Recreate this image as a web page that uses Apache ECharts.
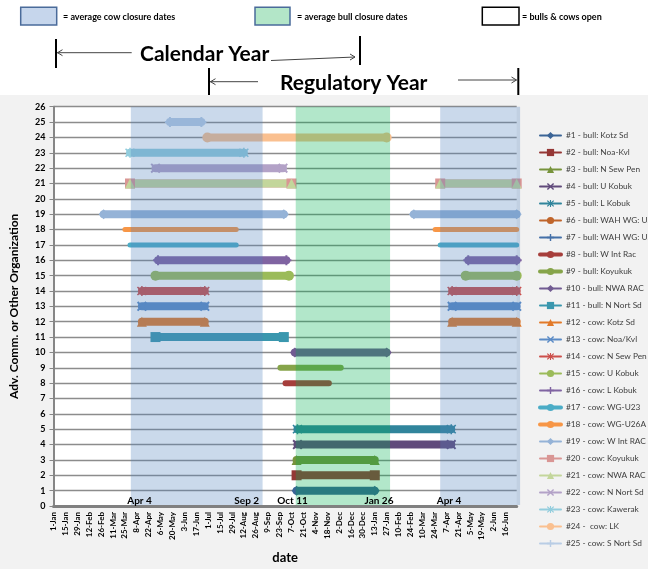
<!DOCTYPE html>
<html>
<head>
<meta charset="utf-8">
<script src="https://cdn.jsdelivr.net/npm/echarts@6/dist/echarts.min.js"></script>
<style>
  html, body { margin: 0; padding: 0; background: #fff; }
  #chart { width: 648px; height: 569px; background: linear-gradient(#fff 0, #fff 95px, #f2f2f2 95px, #f2f2f2 100%); }
</style>
</head>
<body>
<div id="chart"></div>
<script>
// date axis labels, one every 14 days starting 1-Jan
const tickLabels = ['1-Jan','15-Jan','29-Jan','12-Feb','26-Feb','11-Mar','25-Mar','8-Apr','22-Apr','6-May','20-May','3-Jun','17-Jun','1-Jul','15-Jul','29-Jul','12-Aug','26-Aug','9-Sep','23-Sep','7-Oct','21-Oct','4-Nov','18-Nov','2-Dec','16-Dec','30-Dec','13-Jan','27-Jan','10-Feb','24-Feb','10-Mar','24-Mar','7-Apr','21-Apr','5-May','19-May','2-Jun','16-Jun'];

const seriesNames = [
  '#1 - bull: Kotz Sd', '#2 - bull: Noa-Kvl', '#3 - bull: N Sew Pen', '#4 - bull: U Kobuk',
  '#5 - bull: L Kobuk', '#6 - bull: WAH WG: U23', '#7 - bull: WAH WG: U26', '#8 - bull: W Int Rac',
  '#9 - bull: Koyukuk', '#10 - bull: NWA RAC', '#11 - bull: N Nort Sd', '#12 - cow: Kotz Sd',
  '#13 - cow: Noa/Kvl', '#14 - cow: N Sew Pen', '#15 - cow: U Kobuk', '#16 - cow: L Kobuk',
  '#17 - cow: WG-U23', '#18 - cow: WG-U26A', '#19 - cow: W Int RAC', '#20 - cow: Koyukuk',
  '#21 - cow: NWA RAC', '#22 - cow: N Nort Sd', '#23 - cow: Kawerak', '#24 -  cow: LK',
  '#25 - cow: S Nort Sd'
];

// row (y value) of each organization
const seriesRows = [1, 2, 3, 4, 5, 6, 7, 8, 9, 10, 11, 12, 13, 14, 15, 16, 17, 18, 19, 21, 21, 22, 23, 24, 25];

// closure periods [start, end] per organization
const seriesRanges = [
  [['2009-10-14', '2010-01-14']],
  [['2009-10-14', '2010-01-14']],
  [['2009-10-14', '2010-01-14']],
  [['2009-10-15', '2010-04-14']],
  [['2009-10-15', '2010-04-14']],
  [],
  [],
  [['2009-10-01', '2009-11-21']],
  [['2009-09-25', '2009-12-05']],
  [['2009-10-12', '2010-01-28']],
  [['2009-05-01', '2009-09-29']],
  [['2009-04-15', '2009-06-28'], ['2010-04-15', '2010-06-30']],
  [['2009-04-15', '2009-06-28'], ['2010-04-15', '2010-06-30']],
  [['2009-04-15', '2009-06-28'], ['2010-04-15', '2010-06-30']],
  [['2009-05-01', '2009-10-05'], ['2010-05-01', '2010-06-30']],
  [['2009-05-04', '2009-10-02'], ['2010-05-04', '2010-06-30']],
  [['2009-04-01', '2009-08-04'], ['2010-04-01', '2010-06-30']],
  [['2009-03-26', '2009-08-04'], ['2010-03-26', '2010-06-30']],
  [['2009-03-01', '2009-09-29'], ['2010-03-01', '2010-06-30']],
  [['2009-04-01', '2009-10-08'], ['2010-04-01', '2010-06-30']],
  [['2009-04-01', '2009-10-08'], ['2010-04-01', '2010-06-30']],
  [['2009-05-01', '2009-09-28']],
  [['2009-04-01', '2009-08-13']],
  [['2009-07-01', '2010-01-28']],
  [['2009-05-18', '2009-06-24']]
];

// average closure periods: cow, bull, cow (next year)
const bandRanges = [['2009-04-02', '2009-09-04'], ['2009-10-13', '2010-02-01'], ['2010-04-01', '2010-07-04']];

const axisStart = '2009-01-01';
const axisEnd = '2010-06-30';

// styles
const seriesColors = ['#3b6496','#953735','#77933c','#604a7b','#31859c','#c0652b','#4470a8','#a63e3b','#86a44a','#715b92','#3a97ae','#e27a29','#5b8bc6','#cc4f4b','#9bbb59','#8064a2','#4bacc6','#f79646','#95b3d7','#d99694','#c3d69b','#b3a2c7','#93cddd','#fac090','#b9cde5'];
const bandColors = ['rgba(79,129,189,0.3)', 'rgba(0,176,80,0.3)', 'rgba(79,129,189,0.3)'];

const SYM_X = 'path://M0,1.4L1.4,0L5,3.6L8.6,0L10,1.4L6.4,5L10,8.6L8.6,10L5,6.4L1.4,10L0,8.6L3.6,5Z';
const SYM_PLUS = 'path://M4,0H6V4H10V6H6V10H4V6H0V4H4Z';
const SYM_STAR = 'path://M4.3,0H5.7V3.3L8.6,0.4L9.6,1.4L6.4,5L9.6,8.6L8.6,9.6L5.7,6.7V10H4.3V6.7L1.4,9.6L0.4,8.6L3.6,5L0.4,1.4L1.4,0.4L4.3,3.3Z';
const markerCycle = ['diamond', 'rect', 'triangle', SYM_X, SYM_STAR, 'circle', SYM_PLUS, 'none', 'none'];

const FONT = 'Lato, "Open Sans", sans-serif';

function day(s) {
  const p = s.split('-').map(Number);
  return (Date.UTC(p[0], p[1] - 1, p[2]) - Date.UTC(2009, 0, 1)) / 864e5;
}

const lineSeries = seriesNames.map((name, i) => {
  const row = seriesRows[i];
  const data = [];
  seriesRanges[i].forEach((r, k) => {
    if (k > 0) data.push(['-', '-']);
    data.push([day(r[0]), row], [day(r[1]), row]);
  });
  const marker = markerCycle[i % 9];
  const noMarker = marker === 'none';
  return {
    name: name,
    type: 'line',
    data: data,
    clip: false,
    connectNulls: false,
    symbol: marker,
    symbolSize: 10,
    showSymbol: !noMarker,
    color: seriesColors[i],
    lineStyle: { width: noMarker ? (i >= 16 ? 5 : 6) : 8, cap: 'round', color: seriesColors[i] },
    itemStyle: { color: seriesColors[i] },
    animation: false,
    z: 2
  };
});

const bandSeries = {
  name: 'bands',
  type: 'custom',
  z: 10,
  silent: true,
  animation: false,
  clip: false,
  encode: { x: [0, 1] },
  data: bandRanges.map(r => [day(r[0]), day(r[1])]),
  renderItem: function (params, api) {
    const p0 = api.coord([api.value(0), 26]);
    const p1 = api.coord([api.value(1), 0]);
    return {
      type: 'rect',
      shape: { x: p0[0], y: p0[1], width: p1[0] - p0[0], height: p1[1] - p0[1] - 1 },
      style: { fill: bandColors[params.dataIndex] }
    };
  }
};

function arrowHead(x, y, dir) {
  return { type: 'polyline', z: 20, shape: { points: [[x + dir * 5, y - 3], [x, y], [x + dir * 5, y + 3]] }, style: { stroke: '#444', lineWidth: 1, fill: null } };
}
function seg(x1, y1, x2, y2, w, c) {
  return { type: 'line', z: 20, shape: { x1: x1, y1: y1, x2: x2, y2: y2 }, style: { stroke: c, lineWidth: w } };
}
function txt(x, y, s, size, align) {
  return { type: 'text', z: 20, x: x, y: y, style: { text: s, font: 'bold ' + size + 'px ' + FONT, fill: '#000', align: align || 'left', verticalAlign: 'middle' } };
}

const chart = echarts.init(document.getElementById('chart'));
chart.setOption({
  backgroundColor: 'transparent',
  animation: false,
  grid: { left: 53.5, right: 131.3, top: 106.7, bottom: 58.3, show: true, backgroundColor: '#fff', borderWidth: 0 },
  legend: {
    orient: 'vertical',
    left: 533,
    top: 125,
    itemWidth: 21,
    itemHeight: 9,
    itemGap: 6,
    textStyle: { fontFamily: FONT, fontSize: 8.3, color: '#404040', lineHeight: 11 },
    data: seriesNames.map((n, i) => ({ name: n, lineStyle: { width: markerCycle[i % 9] === 'none' ? 4 : 2 } }))
  },
  xAxis: {
    type: 'value',
    min: day(axisStart),
    max: day(axisEnd),
    interval: 14,
    name: 'date',
    nameLocation: 'middle',
    nameGap: 45,
    nameTextStyle: { fontFamily: FONT, fontWeight: 'bold', fontSize: 13, color: '#000' },
    axisLine: { show: true, lineStyle: { color: '#808080', width: 3 } },
    axisTick: { show: false },
    splitLine: { show: false },
    axisLabel: {
      rotate: 90,
      margin: 6,
      fontFamily: FONT,
      fontWeight: 'bold',
      fontSize: 8,
      color: '#000',
      showMaxLabel: false,
      formatter: v => tickLabels[v / 14] || ''
    }
  },
  yAxis: {
    type: 'value',
    min: 0,
    max: 26,
    interval: 1,
    name: 'Adv. Comm. or Other Organization',
    nameLocation: 'middle',
    nameGap: 33,
    nameTextStyle: { fontFamily: FONT, fontWeight: 'bold', fontSize: 12, color: '#000' },
    axisLine: { show: true, lineStyle: { color: '#868686', width: 2 } },
    axisTick: { show: true, length: 4, lineStyle: { color: '#868686' } },
    splitLine: { show: true, lineStyle: { color: '#8c8c8c', width: 1.3 } },
    axisLabel: { fontFamily: FONT, fontWeight: 'bold', fontSize: 9, color: '#000', margin: 8 }
  },
  graphic: [
    // top key
    { type: 'rect', z: 20, shape: { x: 20.7, y: 7.3, width: 36, height: 17.7 }, style: { fill: '#c6d6ec', stroke: '#4a6b9a', lineWidth: 1.5 } },
    txt(63, 17, '= average cow closure dates', 9),
    { type: 'rect', z: 20, shape: { x: 255, y: 7.3, width: 35, height: 17.7 }, style: { fill: '#b3e6c8', stroke: '#4a6b9a', lineWidth: 1.5 } },
    txt(297, 17, '= average bull closure dates', 9),
    { type: 'rect', z: 20, shape: { x: 482.3, y: 7.3, width: 36.7, height: 17.7 }, style: { fill: '#fff', stroke: '#000', lineWidth: 1.5 } },
    txt(522, 17, '= bulls & cows open', 9),
    // calendar year
    seg(56, 39, 56, 68, 2, '#000'),
    seg(57, 52.7, 131.7, 52.7, 1, '#444'),
    arrowHead(57.5, 52.7, 1),
    txt(140, 54, 'Calendar Year', 21),
    seg(271, 60.5, 355, 57, 1, '#444'),
    arrowHead(355, 57, -1),
    seg(360, 36, 360, 65, 2, '#000'),
    // regulatory year
    seg(209, 68, 209, 95, 2, '#000'),
    seg(210, 81.7, 258, 81.7, 1, '#444'),
    arrowHead(210.5, 81.7, 1),
    txt(280, 83, 'Regulatory Year', 21),
    seg(458, 80, 516.5, 80, 1, '#444'),
    arrowHead(516.5, 80, -1),
    seg(518.3, 68, 518.3, 95, 2, '#000'),
    // closure date notes
    txt(139.5, 500.5, 'Apr 4', 10, 'center'),
    txt(246.7, 500.5, 'Sep 2', 10, 'center'),
    txt(292.5, 500.5, 'Oct 11', 10, 'center'),
    txt(379, 500.5, 'Jan 26', 10, 'center'),
    txt(449, 500.5, 'Apr 4', 10, 'center')
  ],
  series: lineSeries.concat([bandSeries])
});
</script>
</body>
</html>
